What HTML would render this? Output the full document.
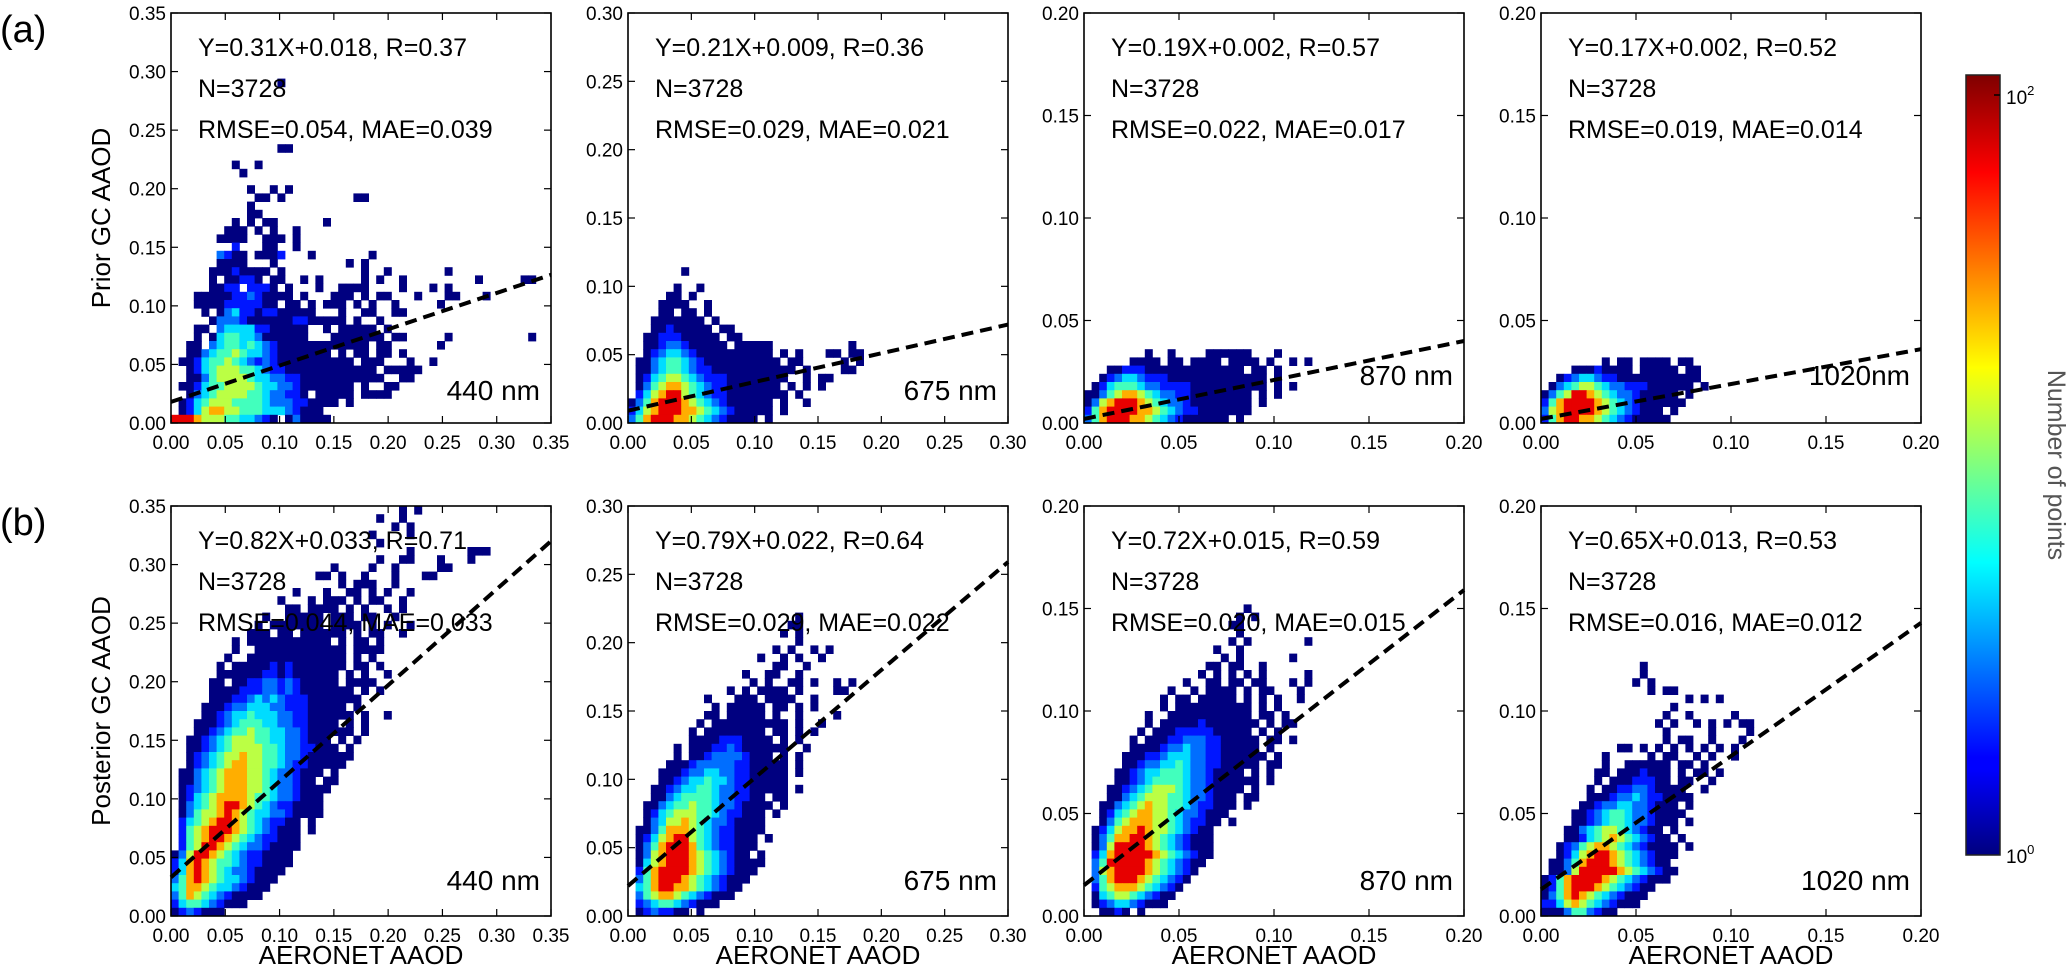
<!DOCTYPE html>
<html><head><meta charset="utf-8"><title>AAOD comparison</title>
<style>
html,body{margin:0;padding:0;background:#fff;}
svg{display:block;font-family:"Liberation Sans","DejaVu Sans",sans-serif;}
</style></head>
<body>
<svg id="fig" width="2067" height="969" viewBox="0 0 2067 969" xmlns="http://www.w3.org/2000/svg">
<defs>
<linearGradient id="jetgrad" x1="0" y1="1" x2="0" y2="0">
<stop offset="0" stop-color="#00007f"/><stop offset="0.11" stop-color="#0000ff"/><stop offset="0.125" stop-color="#0000ff"/>
<stop offset="0.375" stop-color="#00ffff"/><stop offset="0.625" stop-color="#ffff00"/><stop offset="0.875" stop-color="#ff0000"/><stop offset="1" stop-color="#7f0000"/>
</linearGradient>
</defs>
<text x="0" y="42" font-size="38">(a)</text>
<text x="0" y="535" font-size="38">(b)</text>
<text transform="translate(110,218) rotate(-90)" text-anchor="middle" font-size="26">Prior GC AAOD</text>
<text transform="translate(110,711) rotate(-90)" text-anchor="middle" font-size="26">Posterior GC AAOD</text>
<g id="panels"></g>
<g>
<rect x="1966" y="75" width="34" height="780" fill="url(#jetgrad)" stroke="#222" stroke-width="1.5"/>
<line x1="1994" y1="95" x2="2000" y2="95" stroke="#000" stroke-width="1.5"/>
<text x="2006" y="104" font-size="19">10<tspan dy="-9" font-size="13">2</tspan></text>
<text x="2006" y="863" font-size="19">10<tspan dy="-9" font-size="13">0</tspan></text>
<text transform="translate(2048,465) rotate(90)" text-anchor="middle" font-size="25" fill="#555">Number of points</text>
</g>
</svg>
<script>
// ---- data ----
const xMaxes = [0.35, 0.30, 0.20, 0.20, 0.35, 0.30, 0.20, 0.20];
const tickLabelsA = ["0.00","0.05","0.10","0.15","0.20","0.25","0.30","0.35"];
const tickLabelsB = ["0.00","0.05","0.10","0.15","0.20","0.25","0.30"];
const tickLabelsC = ["0.00","0.05","0.10","0.15","0.20"];
const slopes = [0.31, 0.21, 0.19, 0.17, 0.82, 0.79, 0.72, 0.65];
const intercepts = [0.018, 0.009, 0.002, 0.002, 0.033, 0.022, 0.015, 0.013];
const statLine1 = ["Y=0.31X+0.018, R=0.37","Y=0.21X+0.009, R=0.36","Y=0.19X+0.002, R=0.57","Y=0.17X+0.002, R=0.52",
                   "Y=0.82X+0.033, R=0.71","Y=0.79X+0.022, R=0.64","Y=0.72X+0.015, R=0.59","Y=0.65X+0.013, R=0.53"];
const statLine2 = ["N=3728","N=3728","N=3728","N=3728","N=3728","N=3728","N=3728","N=3728"];
const statLine3 = ["RMSE=0.054, MAE=0.039","RMSE=0.029, MAE=0.021","RMSE=0.022, MAE=0.017","RMSE=0.019, MAE=0.014",
                   "RMSE=0.044, MAE=0.033","RMSE=0.029, MAE=0.022","RMSE=0.020, MAE=0.015","RMSE=0.016, MAE=0.012"];
const wavelengths = ["440 nm","675 nm","870 nm","1020nm","440 nm","675 nm","870 nm","1020 nm"];
const levelCounts = [0,1,1,2,3,5,8,14,28,70];
const binsPerAxis = 50;
// grids: top row first; each char = level index of a 2D-histogram cell
const grid0 = ["..............1","","","","","","","","..............11","","........1..1",".........2","","..........1..1.1","...........11.1.........11","..........1","..........11","........2.1.11......1",".......121.1.1..1","......1121..121.1","........3...12..1","......4312.1213...2.......1","......1211...1.........1.1",".....11232111.1..........1..1.......1",".....1.22331.11..1.1.....1.1..1.........1.....12",".....1233.3331.1...1..1112....1...1.1","...1111233431212.1...111.1.11...1...11...1","...12223333322.11.1.112.1.2..1.....1","....1.2453313312121...1..12..11",".....244432121213321111.1..1","...11.455553321121..1.11111.1","...1.2566554211211...1111111.11.....1..........1","..12.456656543121111111211.11......1","..1245667655431221211.2.21.11.1",".12356676543432121211211.211...1..1","..1356777665433221111212111.11111","..12467777655443322121111111..11",".12356677776554432122221.1..11","..2456777766544332.22111.1111",".235677766665444332111.1",".2357887766655543121","99987776655432.141221"];
const grid1 = [".......1","","......1..1",".....11.1","....1111..1","....12.11.1","...1121211.1","...12321211.11","..1233322111.11","..12344321211.11111..........1","..13455432221211211.1.1...11.11",".1245665432222211111.11.....1.1",".124566543322222111111.1....11",".13567765433322211111..1.11",".2467887654332221111.1.1.1",".35789976543322111111.1","2468999876543211111.1..1","3578999887654321111.1","46899988765432111.1"];
const grid2 = ["........1..1....111111...1","......1221.11.1111.1111.1..1.1","...123332221221111211.11.1","..1345543332222111221111.1",".13566654433332222111111.1.1","1246788765443322211111.1.1","2478999876544322211111.1","3689999887654332211111","4689998876543221111.1"];
const grid3 = ["........1.11.1111.11","....12232211.11211.11","..1345543322222111111",".2456776544333211111.1","146799876544322211.1","3689999876543221111","4789999876543211.1","36899887654321111"];
const grid4 = ["..............................1.1","...........................1..1",".............................1.1","..........................1....1","...........................1","...............................1.......111","...........................1..11...1...1",".....................1....1..1.....11","...................11.1..1...1...11","......................1.111..1","................1...1..11.1.1..1","..............1...1.111.1.11..1","...............11.1111.1.1..1.1","............1..11121.112.11..1","...........1.1112111.1112.1.1..1","..........111.11.221111.1.11..1","........1.11112211222.1.11.1","........1..112222121211.1111",".......1..1121221211211.1.1","......1.121213232221211.11.1","......1122123323221212.1.1..1",".....11.22334434322221.1111",".....1112333443432221112.1.1",".....12233454543332211111","....1223445554433322112.1","....12345565554433221211.1..1","...1223456665544332121.1.1","...123456676655443221211.1","..1234567776655443221.1.1","..12345677776654433211.1","..1345677877665443221111","..134567887766543322111",".1245678887765443221.1",".124567888776544321.11",".13456788877654432111",".1356788887665443211",".2456789987654332111",".2467789876554432111",".3567899876543321.1",".3678999876543221.1",".3678998765433221",".3679987654432211","2479987654332111","3589876654332111","358987654432211","46898765543211","5688765543211","468765432111","3566543211","2343211"];
const grid5 = ["......................1",".....................11","....................1.1","......................1","...................1.1..1.1",".................1..1.1..1","...................11..1","...............1..11..1","................1.1..11.1..1.1",".............1.1.1111.1....11","..........1...111.1111..1","...........1.11121.11.1.1","..........11.11221.1..1....1",".........1.1122112111.1..1","........1.11222211.11.1.1","........11123332121.1.1","......1.1223343221211..1","......1.22344443221.1.1",".....1123444443321211.1","....11234455443321111.1","....12345565543321211","...123455665443322111.1","...124566665443321.11","..12456676654432211.1","..1356777665433211.1","..1457787654432211",".12468887654332111",".1357899765433211.1",".1468999865433211",".247899987654321.1",".25789998765432111",".3689999876543211",".468999876543211",".56899887654321",".4678876543211",".34566543211",".2343321.1"];
const grid6 = [".....................1","....................1.1","...................11","....................1","...................1.1.......1",".................1..1","..................1.1......1","................11.11..1","...............1.1.1.1.1.....1",".............1..11.11.11...1.1","...........1..1.1111.1.11...1","..........1.11.11211.1.1.1..1","..........1.1112121111.1.1","........1..11122222121.11.1","........1.1122232221111.1.11",".......1.1223333322211.1.1","......1.112334443322121.11.1","......11223445443322211.1",".....1123345554433221211.1",".....123445565443322111.11","....12345566654432211.1.1","....1234566665443221111.1","...123456777654432211.1","...12456777665443221.11","..124567877665433211.1","..13567887765443211","..1467888776543321.1",".1357889877654321",".1468899876543211",".2479999876543211",".3589999987654321",".469999987654321",".47899998765432",".4689998765432",".367888765431",".25677654321",".1345543211","..1232.1"];
const grid7 = [".............1",".............1","............1.1","..............1.11","...................1.1.1",".................1","................1..1.....1","...............1.1..1.1.1.11","................1.....1....1","................1.11..1...1","..........11.1.1.1.1.1.1.1","........1.....1.11..1.1..1","........1..111221.11.1",".......11.1223221.1.11.1",".......1.11233321.11..1","......1.12334432111..1","......11234454331211",".....1234455443211.1","....123456654432111","....12345665443211.1","...1245677654321.1","...12356787654321.1","..1346788765432111.1","..1357899876543211",".1246899987654321",".12479999987654321","13689999876543211","236899987654321","24689876543211","3357876543211","2124664321"];
const grids = [grid0, grid1, grid2, grid3, grid4, grid5, grid6, grid7];

// ---- layout ----
const panelLefts = [171, 628, 1084, 1541];
const panelTops = [13, 506];
const PW = 380, PH = 410;
const NS = "http://www.w3.org/2000/svg";
const root = document.getElementById('panels');
const CMAX = 113;

function jet(t){
  const c = v => Math.max(0, Math.min(1, v));
  const r = c(1.5 - Math.abs(4*t - 3)), g = c(1.5 - Math.abs(4*t - 2)), b = c(1.5 - Math.abs(4*t - 1));
  return 'rgb(' + Math.round(r*255) + ',' + Math.round(g*255) + ',' + Math.round(b*255) + ')';
}
function mk(tag, attrs, parent){
  const e = document.createElementNS(NS, tag);
  for (const k in attrs) e.setAttribute(k, attrs[k]);
  parent.appendChild(e);
  return e;
}

for (let p = 0; p < 8; p++) {
  const col = p % 4, row = Math.floor(p / 4);
  const L = panelLefts[col], T = panelTops[row];
  const xmax = xMaxes[p];
  const sx = v => L + v / xmax * PW;
  const sy = v => T + PH - v / xmax * PH;
  const g = document.createElementNS(NS, 'g');
  
  
  root.appendChild(g);

  const bw = xmax / binsPerAxis;
  const rowsTop = grids[p];
  const nRows = rowsTop.length;
  for (let r = 0; r < nRows; r++) {
    const yb = nRows - 1 - r;
    const s = rowsTop[r];
    for (let i = 0; i < s.length; i++) {
      const ch = s[i];
      if (ch === '.') continue;
      const cnt = levelCounts[+ch];
      if (!cnt) continue;
      const t = Math.log10(cnt) / Math.log10(CMAX);
      const x0 = sx(i * bw), x1 = sx((i + 1) * bw);
      const y1 = sy(yb * bw), y0 = sy((yb + 1) * bw);
      const rc = mk('rect', {x: x0.toFixed(2), y: y0.toFixed(2), width: (x1 - x0 + 0.4).toFixed(2), height: (y1 - y0 + 0.4).toFixed(2), fill: jet(t)}, g);
      
      
    }
  }

  const ln = mk('line', {x1: sx(0), y1: sy(intercepts[p]), x2: sx(xmax), y2: sy(slopes[p] * xmax + intercepts[p]), stroke: '#000', 'stroke-width': 4, 'stroke-dasharray': '12,7'}, g);
  
  

  const fr = mk('rect', {x: L, y: T, width: PW, height: PH, fill: 'none', stroke: '#000', 'stroke-width': 1.6}, g);
  
  

  const labels = xmax > 0.33 ? tickLabelsA : (xmax > 0.25 ? tickLabelsB : tickLabelsC);
  for (let k = 0; k < labels.length; k++) {
    const v = parseFloat(labels[k]);
    const X = sx(v), Y = sy(v);
    mk('line', {x1: X, y1: T + PH, x2: X, y2: T + PH - 7, stroke: '#000', 'stroke-width': 1.2}, g);
    mk('line', {x1: X, y1: T, x2: X, y2: T + 7, stroke: '#000', 'stroke-width': 1.2}, g);
    mk('line', {x1: L, y1: Y, x2: L + 7, y2: Y, stroke: '#000', 'stroke-width': 1.2}, g);
    mk('line', {x1: L + PW, y1: Y, x2: L + PW - 7, y2: Y, stroke: '#000', 'stroke-width': 1.2}, g);
    const xt = mk('text', {x: X, y: T + PH + 26, 'text-anchor': 'middle', 'font-size': 19}, g);
    xt.textContent = labels[k];
    
    
    const yt = mk('text', {x: L - 5, y: Y + 7, 'text-anchor': 'end', 'font-size': 19}, g);
    yt.textContent = labels[k];
    
    
  }

  const lines = [statLine1[p], statLine2[p], statLine3[p]];
  for (let k = 0; k < 3; k++) {
    const st = mk('text', {x: L + 27, y: T + 43 + k * 41, 'font-size': 25}, g);
    st.textContent = lines[k];
    
    
  }
  const wy = row === 0 ? (col >= 2 ? T + PH - 38 : T + PH - 23) : T + PH - 26;
  const wl = mk('text', {x: L + PW - 11, y: wy, 'text-anchor': 'end', 'font-size': 28}, g);
  wl.textContent = wavelengths[p];
  
  

  if (row === 1) {
    const xl = mk('text', {x: L + PW / 2, y: 964, 'text-anchor': 'middle', 'font-size': 26}, g);
    xl.textContent = 'AERONET AAOD';
    
    
  }
}
</script>
</body></html>
